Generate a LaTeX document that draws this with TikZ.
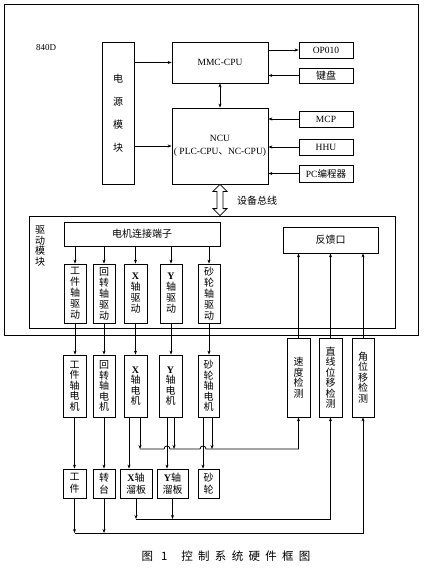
\documentclass[tikz,border=0pt]{standalone}
\usepackage{fontspec}
\setmainfont{Liberation Serif}
\newfontfamily\cjk{Noto Sans CJK SC}
\usetikzlibrary{arrows.meta,calc}
\newcommand{\Lx}[1]{{\rmfamily\bfseries #1}}
\newcommand{\hsp}{\hspace{5.3pt}}
\begin{document}
\begin{tikzpicture}[x=1pt,y=-1pt,
  box/.style={draw, line width=0.8pt, inner sep=0pt, align=center, font=\fontsize{9.5}{13.5}\selectfont},
  cbox/.style={box, font=\cjk\fontsize{10}{12}\selectfont},
  vbox/.style={box, font=\cjk\fontsize{10}{11}\selectfont},
  dbox/.style={box, font=\cjk\fontsize{10}{10.5}\selectfont},
  lbox/.style={box, font=\cjk\fontsize{10}{12}\selectfont},
  ln/.style={line width=0.8pt},
  arr/.style={ln, -{Stealth[length=4pt,width=3pt]}},
  darr/.style={ln, {Stealth[length=4pt,width=3pt]}-{Stealth[length=4pt,width=3pt]}},
]
\useasboundingbox (0,0) rectangle (427,575);

% containers
\node[box, line width=1pt, minimum width=414pt, minimum height=330pt] (outer) at (211,170) {};
\node[font=\fontsize{9}{10}\selectfont] (t840) at (46,48) {840D};
\node[box, minimum width=366pt, minimum height=112pt] (drvmod) at (212,272) {};
\node[align=center, inner sep=0pt, font=\cjk\fontsize{10}{10.5}\selectfont] (drvlbl) at (40,246) {驱\\动\\模\\块};

% top part
\node[box, font=\cjk\fontsize{10}{23}\selectfont, minimum width=32pt, minimum height=142pt] (pwr) at (118,113) {电\\源\\模\\块};
\node[box, minimum width=96pt, minimum height=41pt] (mmc) at (220,62.5) {MMC-CPU};
\node[box, minimum width=96pt, minimum height=76pt] (ncu) at (220,146) {NCU\\( PLC-CPU{\cjk 、}NC-CPU)};
\node[box, minimum width=54pt, minimum height=16pt] (op) at (326,50) {OP010};
\node[cbox, minimum width=54pt, minimum height=15pt] (kb) at (326,75.5) {键盘};
\node[box, minimum width=54pt, minimum height=16pt] (mcp) at (326,119) {MCP};
\node[box, minimum width=54pt, minimum height=16pt] (hhu) at (326,147) {HHU};
\node[box, minimum width=54pt, minimum height=17pt] (pc) at (326,173.5) {PC{\cjk 编程器}};

\draw[arr] (pwr.east |- mmc.west) -- (mmc.west);
\draw[arr] (pwr.east |- ncu.west) -- (ncu.west);
\draw[arr] (mmc.east |- op.west) -- (op.west);
\draw[arr] (kb.west) -- (kb.west -| mmc.east);
\draw[arr] (mcp.west) -- (mcp.west -| ncu.east);
\draw[arr] (hhu.west) -- (hhu.west -| ncu.east);
\draw[arr] (pc.west) -- (pc.west -| ncu.east);
\draw[darr] (mmc.south) -- (ncu.north);

% bus arrow
\coordinate (bt) at (ncu.south);
\coordinate (bb) at (ncu.south |- drvmod.north);
\draw[ln, fill=white] (bt) -- ([xshift=7pt,yshift=-7pt]bt) -- ([xshift=3pt,yshift=-7pt]bt)
  -- ([xshift=3pt,yshift=7pt]bb) -- ([xshift=7pt,yshift=7pt]bb) -- (bb)
  -- ([xshift=-7pt,yshift=7pt]bb) -- ([xshift=-3pt,yshift=7pt]bb)
  -- ([xshift=-3pt,yshift=-7pt]bt) -- ([xshift=-7pt,yshift=-7pt]bt) -- cycle;
\node[font=\cjk\fontsize{10}{12}\selectfont, inner sep=0pt] (buslbl) at (257,201) {设备总线};

% drive module
\node[cbox, minimum width=156pt, minimum height=24pt] (term) at (142,234) {电机连接端子};
\node[cbox, minimum width=95pt, minimum height=26pt] (fb) at (330.5,240) {反馈口};

\node[vbox, minimum width=22pt, minimum height=59pt] (d1) at (75,293.5) {工\\件\\轴\\驱\\动};
\node[vbox, minimum width=22pt, minimum height=59pt] (d2) at (104,293.5) {回\\转\\轴\\驱\\动};
\node[vbox, minimum width=23pt, minimum height=59pt] (d3) at (135.5,293.5) {\Lx{X}\\轴\\驱\\动};
\node[vbox, minimum width=22pt, minimum height=59pt] (d4) at (171,293.5) {\Lx{Y}\\轴\\驱\\动};
\node[vbox, minimum width=22pt, minimum height=59pt] (d5) at (209,293.5) {砂\\轮\\轴\\驱\\动};

\foreach \d in {d1,d2,d3,d4,d5}{\draw[arr] (\d.north |- term.south) -- (\d.north);}

% motors
\node[dbox, minimum width=23pt, minimum height=62pt] (m1) at (74.5,386) {工\\件\\轴\\电\\机};
\node[dbox, minimum width=22pt, minimum height=62pt] (m2) at (104,386) {回\\转\\轴\\电\\机};
\node[dbox, minimum width=23pt, minimum height=62pt] (m3) at (135.5,386) {\Lx{X}\\轴\\电\\机};
\node[dbox, minimum width=23pt, minimum height=62pt] (m4) at (170.5,386) {\Lx{Y}\\轴\\电\\机};
\node[dbox, minimum width=21pt, minimum height=62pt] (m5) at (208.5,386) {砂\\轮\\轴\\电\\机};

\draw[arr] (d1.south) -- (d1.south |- m1.north);
\draw[arr] (d2.south) -- (d2.south |- m2.north);
\draw[arr] (d3.south) -- (d3.south |- m3.north);
\draw[arr] (d4.south) -- (d4.south |- m4.north);
\draw[arr] (d5.south) -- (d5.south |- m5.north);

% detection
\node[dbox, minimum width=23pt, minimum height=79pt] (s1) at (298.5,377.5) {速\\度\\检\\测};
\node[dbox, minimum width=23pt, minimum height=79pt] (s2) at (330.5,377.5) {直\\线\\位\\移\\检\\测};
\node[dbox, minimum width=22pt, minimum height=79pt] (s3) at (363,377.5) {角\\位\\移\\检\\测};

\draw[arr] (s1.north) -- (s1.north |- fb.south);
\draw[arr] (s2.north) -- (s2.north |- fb.south);
\draw[arr] (s3.north) -- (s3.north |- fb.south);

% lower boxes
\node[lbox, minimum width=23pt, minimum height=29pt] (l1) at (74.5,483.5) {工\\件};
\node[lbox, minimum width=22pt, minimum height=29pt] (l2) at (104,483.5) {转\\台};
\node[lbox, minimum width=32pt, minimum height=29pt] (l3) at (136,483.5) {\Lx{X}轴\\溜板};
\node[lbox, minimum width=31pt, minimum height=29pt] (l4) at (172.5,483.5) {\Lx{Y}轴\\溜板};
\node[lbox, minimum width=21pt, minimum height=29pt] (l5) at (208.5,483.5) {砂\\轮};

\coordinate (v1) at (m1.south);
\coordinate (v2) at (m2.south);
\coordinate (v3) at ([xshift=-6.5pt]m3.south);
\coordinate (v4) at ([xshift=-3.5pt]m4.south);
\coordinate (v5) at ([xshift=-5.5pt]m5.south);
\draw[arr] (v1) -- (v1 |- l1.north);
\draw[arr] (v2) -- (v2 |- l2.north);
\draw[arr] (v3) -- (v3 |- l3.north);
\draw[arr] (v4) -- (v4 |- l4.north);
\draw[arr] (v5) -- (v5 |- l5.north);

% speed feedback
\coordinate (yS) at (0,449);
\coordinate (a3) at ([xshift=4.5pt]m3.south);
\coordinate (a4) at ([xshift=3.5pt]m4.south);
\coordinate (a5) at ([xshift=3.5pt]m5.south);
\coordinate (c1) at (v4 |- yS);
\coordinate (c2) at (v5 |- yS);
\draw[arr] (a3) -- (a3 |- yS);
\draw[arr] (a4) -- (a4 |- yS);
\draw[arr] (a5) -- (a5 |- yS);
\draw[arr] (a3 |- yS) -- ([xshift=-3pt]c1)
  .. controls ([xshift=-3pt,yshift=4pt]c1) and ([xshift=3pt,yshift=4pt]c1) .. ([xshift=3pt]c1)
  -- ([xshift=-3pt]c2)
  .. controls ([xshift=-3pt,yshift=4pt]c2) and ([xshift=3pt,yshift=4pt]c2) .. ([xshift=3pt]c2)
  -- (s1.south |- yS) -- (s1.south);

% linear displacement
\coordinate (yL) at (0,519);
\coordinate (b3) at (l3.south);
\coordinate (b4) at (l4.south);
\draw[arr] (b3) -- (b3 |- yL);
\draw[arr] (b4) -- (b4 |- yL);
\draw[arr] (b3 |- yL) -- (s2.south |- yL) -- (s2.south);

% angular displacement
\coordinate (yA) at (0,533);
\coordinate (e1) at (l1.south);
\coordinate (e2) at (l2.south);
\draw[arr] (e1) -- (e1 |- yA);
\draw[arr] (e2) -- (e2 |- yA);
\draw[arr] (e1 |- yA) -- (s3.south |- yA) -- (s3.south);

% caption
\node[font=\cjk\fontsize{11.5}{13}\selectfont, inner sep=0pt] (cap) at (226,556)
  {图\hspace{8pt}1\hspace{14pt}控\hsp 制\hsp 系\hsp 统\hsp 硬\hsp 件\hsp 框\hsp 图};
\end{tikzpicture}
\end{document}
